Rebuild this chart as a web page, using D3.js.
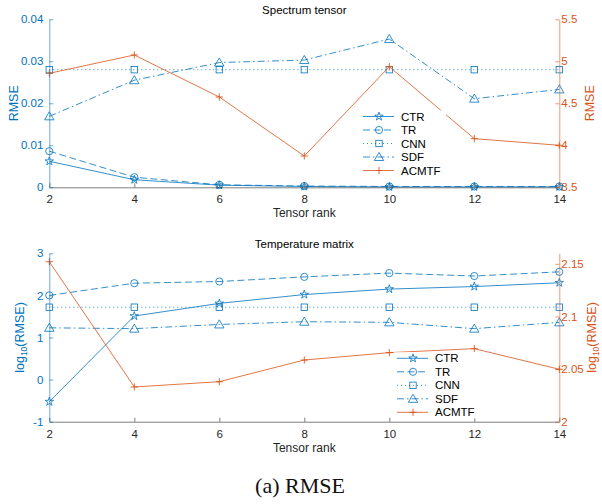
<!DOCTYPE html>
<html><head><meta charset="utf-8">
<script src="https://cdn.jsdelivr.net/npm/d3@7/dist/d3.min.js"></script>
<style>body{margin:0;background:#fff}svg{display:block;font-family:"Liberation Sans",Arial,sans-serif}</style>
</head><body>
<script>
const ranks = [2, 4, 6, 8, 10, 12, 14];
const xTicks = [2, 4, 6, 8, 10, 12, 14];
const seriesNames = ["CTR", "TR", "CNN", "SDF", "ACMTF"];

// Spectrum tensor (left axis RMSE; ACMTF on right axis)
const specCTR = [0.0062, 0.0018, 0.0005, 0.0002, 0.0001, 0.0001, 0.0001];
const specTR = [0.0086, 0.0024, 0.0006, 0.0003, 0.0002, 0.0002, 0.0002];
const specCNN = [0.028, 0.028, 0.028, 0.028, 0.028, 0.028, 0.028];
const specSDF = [0.0169, 0.0255, 0.0297, 0.0303, 0.0353, 0.0211, 0.0233];
const specACMTF = [4.857, 5.075, 4.575, 3.873, 4.936, 4.079, 4.0];
const specLeftTicks = [0, 0.01, 0.02, 0.03, 0.04];
const specRightTicks = [3.5, 4, 4.5, 5, 5.5];

// Temperature matrix (left axis log10(RMSE); ACMTF on right axis)
const tempCTR = [-0.525, 1.51, 1.81, 2.02, 2.15, 2.21, 2.30];
const tempTR = [2.0, 2.29, 2.33, 2.44, 2.53, 2.46, 2.56];
const tempCNN = [1.72, 1.72, 1.72, 1.72, 1.72, 1.72, 1.72];
const tempSDF = [1.23, 1.21, 1.31, 1.375, 1.36, 1.21, 1.36];
const tempACMTF = [2.152, 2.033, 2.038, 2.0586, 2.0656, 2.0694, 2.0498];
const tempLeftTicks = [-1, 0, 1, 2, 3];
const tempRightTicks = [2, 2.05, 2.1, 2.15];

const BLUE = "#0072BD", ORANGE = "#D95319", AX = "#262626";
const svg = d3.select("body").append("svg").attr("width", 602).attr("height", 504);

const styles = {
  CTR: {color: BLUE, dash: null, marker: "star"},
  TR: {color: BLUE, dash: "7,3.5", marker: "circle"},
  CNN: {color: BLUE, dash: "1,3", marker: "square"},
  SDF: {color: BLUE, dash: "7,3,1.5,3", marker: "triangle"},
  ACMTF: {color: ORANGE, dash: null, marker: "plus"}
};

function drawMarker(g, type, x, y, color) {
  const s = 3.6;
  if (type === "circle") {
    g.append("circle").attr("cx", x).attr("cy", y).attr("r", s).attr("fill", "none").attr("stroke", color).attr("stroke-width", 0.8);
  } else if (type === "square") {
    g.append("rect").attr("x", x - s + 0.4).attr("y", y - s + 0.4).attr("width", 2 * s - 0.8).attr("height", 2 * s - 0.8).attr("fill", "none").attr("stroke", color).attr("stroke-width", 0.8);
  } else if (type === "triangle") {
    g.append("path").attr("d", d3.symbol(d3.symbolTriangle, 38)()).attr("transform", `translate(${x},${y + 0.8})`).attr("fill", "none").attr("stroke", color).attr("stroke-width", 0.8);
  } else if (type === "star") {
    g.append("path").attr("d", d3.symbol(d3.symbolStar, 22)()).attr("transform", `translate(${x},${y})`).attr("fill", "none").attr("stroke", color).attr("stroke-width", 0.8);
  } else if (type === "plus") {
    g.append("path").attr("d", `M${x - s},${y}H${x + s}M${x},${y - s}V${y + s}`).attr("stroke", color).attr("stroke-width", 0.9);
  }
}

function panel(cfg) {
  const {top, bottom, left, right, yL, yR, leftTicks, rightTicks, data, title, leftLabel, rightLabel, legend, fmtL, fmtR} = cfg;
  const x = d3.scaleLinear().domain([2, 14]).range([left, right]);
  const yl = d3.scaleLinear().domain(yL).range([bottom, top]);
  const yr = d3.scaleLinear().domain(yR).range([bottom, top]);
  const g = svg.append("g");

  seriesNames.forEach(name => {
    const st = styles[name];
    const ys = name === "ACMTF" ? yr : yl;
    const vals = data[name];
    const line = d3.line().x((d, i) => x(ranks[i])).y(d => ys(d));
    g.append("path").datum(vals).attr("d", line).attr("fill", "none")
      .attr("stroke", st.color).attr("stroke-width", 0.8)
      .attr("stroke-dasharray", st.dash);
    vals.forEach((v, i) => drawMarker(g, st.marker, x(ranks[i]), ys(v), st.color));
  });

  const xAxis = d3.axisBottom(x).tickValues(xTicks).tickSizeInner(-4).tickSizeOuter(0).tickPadding(8);
  const gx = g.append("g").attr("transform", `translate(0,${bottom})`).call(xAxis);
  gx.select(".domain").attr("stroke", AX).attr("stroke-width", 0.6);
  gx.selectAll(".tick line").attr("stroke", AX).attr("stroke-width", 0.6);
  gx.selectAll("text").attr("fill", AX).attr("font-size", 11.5).attr("font-family", "Liberation Sans, Arial, sans-serif");

  const lAxis = d3.axisLeft(yl).tickValues(leftTicks).tickFormat(fmtL).tickSizeInner(-4).tickSizeOuter(0).tickPadding(6);
  const gl = g.append("g").attr("transform", `translate(${left},0)`).call(lAxis);
  gl.select(".domain").attr("stroke", BLUE).attr("stroke-width", 0.6);
  gl.selectAll(".tick line").attr("stroke", BLUE).attr("stroke-width", 0.6);
  gl.selectAll("text").attr("fill", BLUE).attr("font-size", 11.5).attr("font-family", "Liberation Sans, Arial, sans-serif");

  const rAxis = d3.axisRight(yr).tickValues(rightTicks).tickFormat(fmtR).tickSizeInner(-4).tickSizeOuter(0).tickPadding(2);
  const gr = g.append("g").attr("transform", `translate(${right},0)`).call(rAxis);
  gr.select(".domain").attr("stroke", ORANGE).attr("stroke-width", 0.6);
  gr.selectAll(".tick line").attr("stroke", ORANGE).attr("stroke-width", 0.6);
  gr.selectAll("text").attr("fill", ORANGE).attr("font-size", 11.5).attr("font-family", "Liberation Sans, Arial, sans-serif");

  g.append("text").attr("x", (left + right) / 2).attr("y", top - 5).attr("text-anchor", "middle")
    .attr("font-size", 11.5).attr("fill", "#000").text(title);
  g.append("text").attr("x", (left + right) / 2).attr("y", bottom + 30).attr("text-anchor", "middle")
    .attr("font-size", 12).attr("fill", AX).text("Tensor rank");

  const ll = g.append("text").attr("transform", `translate(${cfg.leftLabelX},${(top + bottom) / 2}) rotate(-90)`)
    .attr("text-anchor", "middle").attr("font-size", 12.5).attr("fill", BLUE);
  leftLabel(ll);
  const rl = g.append("text").attr("transform", `translate(${cfg.rightLabelX},${(top + bottom) / 2}) rotate(-90)`)
    .attr("text-anchor", "middle").attr("font-size", 12.5).attr("fill", ORANGE);
  rightLabel(rl);

  const lg = g.append("g");
  lg.append("rect").attr("x", legend.x).attr("y", legend.y - 6).attr("width", 86).attr("height", 66).attr("fill", "#fff");
  seriesNames.forEach((name, i) => {
    const st = styles[name];
    const yy = legend.y + i * 13.5;
    lg.append("line").attr("x1", legend.x + 3).attr("x2", legend.x + 34).attr("y1", yy).attr("y2", yy)
      .attr("stroke", st.color).attr("stroke-width", 0.8).attr("stroke-dasharray", st.dash);
    drawMarker(lg, st.marker, legend.x + 19, yy, st.color);
    lg.append("text").attr("x", legend.x + 41).attr("y", yy + 4).attr("font-size", 11.5).attr("fill", "#000").text(name);
  });
}

const logLabel = t => { t.append("tspan").text("log"); t.append("tspan").attr("font-size", 8.5).attr("dy", 3).text("10"); t.append("tspan").attr("dy", -3).text("(RMSE)"); };

panel({
  top: 19.3, bottom: 187.3, left: 49.3, right: 559.3,
  yL: [0, 0.04], yR: [3.5, 5.5], leftTicks: specLeftTicks, rightTicks: specRightTicks,
  fmtL: d => d === 0 ? "0" : d3.format(".2f")(d), fmtR: d => String(d),
  data: {CTR: specCTR, TR: specTR, CNN: specCNN, SDF: specSDF, ACMTF: specACMTF},
  title: "Spectrum tensor",
  leftLabelX: 18, rightLabelX: 594,
  leftLabel: t => t.text("RMSE"), rightLabel: t => t.text("RMSE"),
  legend: {x: 360, y: 116.5}
});

panel({
  top: 253.3, bottom: 421.7, left: 49.3, right: 559.3,
  yL: [-1, 3], yR: [2, 2.16], leftTicks: tempLeftTicks, rightTicks: tempRightTicks,
  fmtL: d => String(d), fmtR: d => String(d),
  data: {CTR: tempCTR, TR: tempTR, CNN: tempCNN, SDF: tempSDF, ACMTF: tempACMTF},
  title: "Temperature matrix",
  leftLabelX: 24, rightLabelX: 596,
  leftLabel: logLabel, rightLabel: logLabel,
  legend: {x: 394, y: 358.3}
});

svg.append("text").attr("x", 300).attr("y", 493).attr("text-anchor", "middle")
  .attr("font-family", "'Liberation Serif','DejaVu Serif',serif").attr("font-size", 22).attr("fill", "#111").text("(a) RMSE");
</script>
</body></html>
